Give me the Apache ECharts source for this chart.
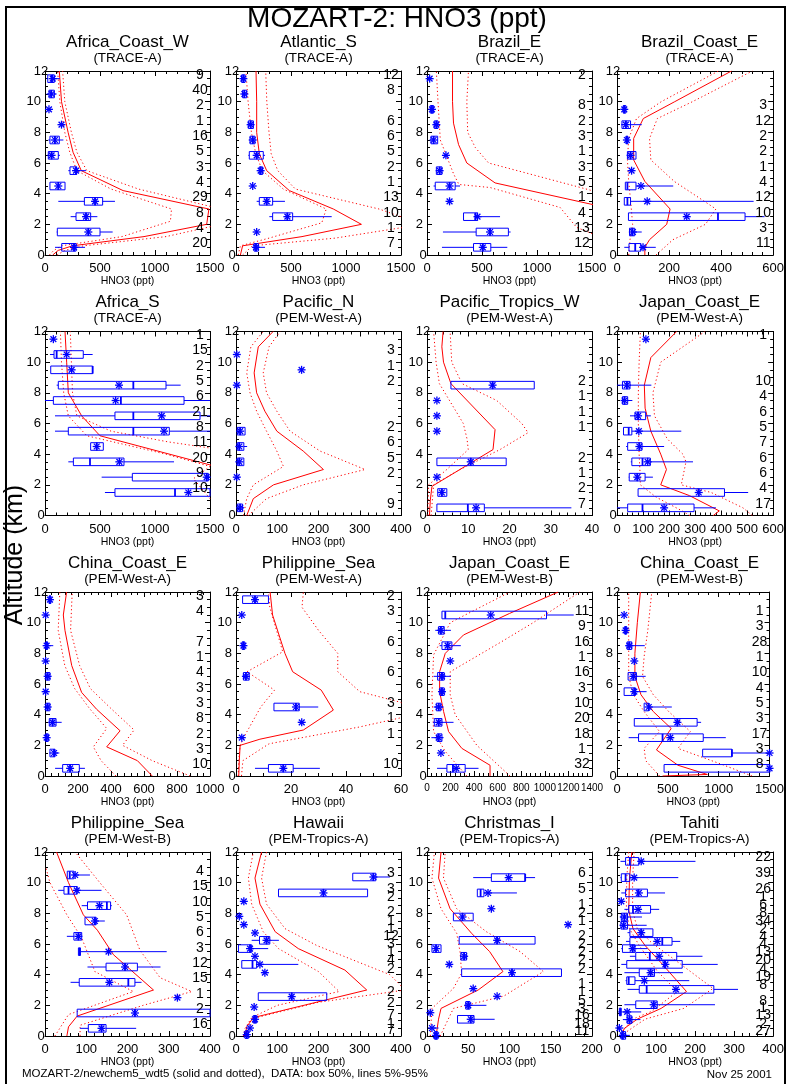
<!DOCTYPE html>
<html><head><meta charset="utf-8">
<script src="https://cdn.jsdelivr.net/npm/echarts@6.0.0/dist/echarts.min.js"></script>
<style>html,body{margin:0;padding:0;background:#fff}#c{width:787px;height:1084px}</style>
</head><body><div id="c"></div>
<script>
// ---------- DATA ----------
const mainTitle = 'MOZART-2: HNO3 (ppt)';
const yAxisTitle = 'Altitude (km)';
const xAxisTitle = 'HNO3 (ppt)';
const footerLeft = 'MOZART-2/newchem5_wdt5 (solid and dotted),  DATA: box 50%, lines 5%-95%';
const footerRight = 'Nov 25 2001';
const panelTitles = ['Africa_Coast_W','Atlantic_S','Brazil_E','Brazil_Coast_E','Africa_S','Pacific_N','Pacific_Tropics_W','Japan_Coast_E','China_Coast_E','Philippine_Sea','Japan_Coast_E','China_Coast_E','Philippine_Sea','Hawaii','Christmas_I','Tahiti'];
const panelCampaigns = ['TRACE-A','TRACE-A','TRACE-A','TRACE-A','TRACE-A','PEM-West-A','PEM-West-A','PEM-West-A','PEM-West-A','PEM-West-A','PEM-West-B','PEM-West-B','PEM-West-B','PEM-Tropics-A','PEM-Tropics-A','PEM-Tropics-A'];
const xMaxes = [1500,1500,1500,600,1500,400,40,600,1000,60,1400,1500,400,400,200,400];
const xSteps = [500,500,500,200,500,100,10,100,200,20,200,500,100,100,50,100];
const yTicks = [0,2,4,6,8,10,12];

// observations: [altitude, p5, q1, median, q3, p95, mean, count]
const obs01 = [[11.5,15,25,60,85,135,70,9],[10.5,15,36,55,85,106,60,40],[9.5,null,null,null,null,null,36,2],[8.5,null,null,null,null,null,150,1],[7.5,30,45,90,130,167,90,16],[6.5,24,30,60,121,136,60,5],[5.5,212,227,282,288,373,282,3],[4.5,null,45,121,182,null,121,4],[3.5,121,358,455,524,636,455,29],[2.5,233,282,373,415,476,373,8],[1.5,106,112,394,500,615,394,4],[0.5,91,152,264,282,364,264,20]];
const obs02 = [[11.5,null,51,67,82,null,67,12],[10.5,null,60,76,97,null,76,8],[8.5,null,112,133,158,null,133,6],[7.5,null,127,152,173,null,152,6],[6.5,112,121,188,248,264,188,5],[5.5,null,212,224,242,null,224,2],[4.5,null,null,null,null,null,152,1],[3.5,188,212,279,333,445,279,13],[2.5,303,333,467,515,870,467,10],[1.5,null,null,null,null,null,188,1],[0.5,158,164,182,203,264,182,7]];
const obs03 = [[11.5,null,null,null,null,null,24,2],[9.5,null,30,45,60,null,45,8],[8.5,null,66,85,100,null,85,2],[7.5,null,36,60,97,null,60,3],[6.5,null,null,null,null,null,172,1],[5.5,null,85,115,136,null,115,3],[4.5,60,75,205,256,300,205,5],[3.5,null,null,null,null,null,205,1],[2.5,332,332,440,459,664,459,4],[1.5,145,447,573,740,760,573,13],[0.5,136,423,507,580,730,507,12]];
const obs04 = [[9.5,null,24,28,34,null,28,3],[8.5,16,19,34,52,95,34,12],[7.5,null,34,38,42,null,38,2],[6.5,null,40,52,73,null,52,2],[5.5,null,null,null,null,null,56,1],[4.5,32,32,40,73,216,92,4],[3.5,28,28,40,52,525,116,12],[2.5,44,44,388,492,567,268,10],[1.5,46,48,58,68,95,61,3],[0.5,28,46,70,92,149,100,11]];
const obs05 = [[11.5,null,null,null,null,null,76,1],[10.5,45,82,106,348,433,197,15],[9.5,null,52,433,433,null,242,2],[8.5,106,121,803,1100,1233,673,5],[7.5,0,76,690,1264,1600,642,6],[6.5,91,636,803,1409,1600,1061,21],[5.5,91,212,803,1130,1600,1082,8],[4.5,null,415,470,530,null,470,11],[3.5,212,258,409,718,1173,676,20],[2.5,515,794,1470,1485,1600,1470,9],[1.5,545,636,1182,1530,1600,1303,10]];
const obs06 = [[10.5,null,null,null,null,null,2,3],[9.5,null,null,null,null,null,159,1],[8.5,null,null,null,null,null,2,2],[5.5,null,3,10,22,null,10,2],[4.5,2,3,8,19,27,8,6],[3.5,null,3,8,19,null,8,5],[2.5,null,null,null,null,null,2,2],[0.5,null,3,10,16,null,10,9]];
const obs07 = [[8.5,null,5.8,15.9,26,null,15.9,2],[7.5,null,null,null,null,null,2.4,1],[6.5,null,null,null,null,null,2.4,1],[5.5,null,null,null,null,null,2.4,1],[3.5,null,2.4,10.6,19.2,null,10.6,2],[2.5,null,null,null,null,null,2.4,1],[1.5,null,2.6,3.6,4.8,null,3.6,2],[0.5,2.4,2.4,9.9,13.9,35,11.9,7]];
const obs08 = [[11.5,null,null,null,null,null,111,1],[8.5,0,21,38,50,132,38,10],[7.5,21,21,29,41,59,29,4],[6.5,50,69,81,110,130,81,6],[5.5,23,25,45,57,247,84,5],[4.5,35,41,86,96,181,86,7],[3.5,53,57,98,128,292,118,6],[2.5,45,47,78,108,138,78,6],[1.5,81,81,314,413,504,314,4],[0.5,0,41,98,296,380,181,17]];
const obs09 = [[11.5,null,24,30,36,null,30,3],[10.5,null,null,null,null,null,4,4],[8.5,0,4,10,16,50,10,7],[7.5,null,null,null,null,null,4,1],[6.5,null,6,16,30,null,16,4],[5.5,null,null,null,null,null,4,3],[4.5,null,6,16,30,null,16,3],[3.5,20,26,46,67,101,46,8],[2.5,null,4,10,20,null,10,2],[1.5,26,30,55,61,87,55,3],[0.5,61,107,152,208,242,152,10]];
const obs10 = [[11.5,null,2.4,6.9,11.8,null,6.9,2],[10.5,null,null,null,null,null,2.1,3],[8.5,null,2.2,2.7,3.2,null,2.7,6],[6.5,null,2.7,3.6,4.8,null,3.6,6],[4.5,13.8,13.8,21.8,23,29.9,21.8,3],[3.5,null,null,null,null,null,23.9,1],[2.5,null,null,null,null,null,2.1,1],[0.5,6.9,11.8,17.2,20.8,30.5,17.2,10]];
const obs11 = [[10.5,127,127,155,1014,1245,541,11],[9.5,70,99,118,146,203,118,9],[8.5,107,127,175,211,287,175,16],[7.5,null,null,null,null,null,197,1],[6.5,56,90,127,146,203,127,16],[5.5,null,110,127,146,null,127,3],[4.5,56,79,99,118,141,99,10],[3.5,51,62,99,127,225,99,20],[2.5,37,85,99,127,141,99,18],[1.5,null,null,null,null,null,118,1],[0.5,85,169,220,324,437,248,32]];
const obs12 = [[10.5,null,null,null,null,null,70,1],[9.5,null,75,85,95,null,85,3],[8.5,85,100,121,145,273,121,28],[7.5,null,null,null,null,null,170,1],[6.5,109,109,161,191,282,161,10],[5.5,70,70,170,182,291,170,4],[4.5,267,267,312,312,539,312,5],[3.5,170,170,594,788,827,594,3],[2.5,115,212,448,848,1070,524,17],[1.5,842,842,1130,1130,1700,1500,3],[0.5,463,463,1800,1800,2000,1500,8]];
const obs13 = [[10.5,54,54,60,70,109,73,4],[9.5,32,46,57,78,137,77,15],[8.5,89,103,150,159,162,132,10],[7.5,97,97,121,124,145,121,5],[6.5,53,70,81,89,89,81,6],[5.5,81,81,84,86,295,154,3],[4.5,103,148,194,224,280,194,12],[3.5,62,83,202,218,234,156,15],[2.5,null,null,null,null,null,321,1],[1.5,null,78,218,405,null,218,2],[0.5,85,105,137,148,221,137,16]];
const obs14 = [[10.37,283,283,333,339,373,333,3],[9.33,null,103,212,319,null,212,3],[8.78,null,null,null,null,null,19,2],[7.8,null,null,null,null,null,8,2],[7.26,null,null,null,null,null,19,1],[6.72,null,null,null,null,null,46,1],[6.24,38,57,74,82,104,74,12],[5.7,6,6,34,38,78,34,3],[5.2,null,null,null,null,null,46,1],[4.67,14,14,40,50,151,58,4],[4.13,null,null,null,null,null,70,2],[2.57,null,54,135,220,null,135,2],[1.89,null,null,null,null,null,44,2],[1.09,null,42,46,50,null,46,7],[0.52,null,null,null,null,null,34,1],[0.09,null,22,26,30,null,26,7]];
const obs15 = [[10.33,56,78,119,119,131,99,6],[9.33,61,61,65,69,109,74,5],[8.3,null,null,null,null,null,78,1],[7.76,null,32,43,56,null,43,2],[7.26,null,null,null,null,null,171,1],[6.24,null,39,85,131,null,85,2],[5.7,null,6,11,17,null,11,2],[5.2,null,41,45,48,null,45,2],[4.67,null,null,null,null,null,27,2],[4.13,null,42,103,163,null,103,2],[3.09,null,null,null,null,null,56,1],[2.59,null,null,null,null,null,85,1],[2.0,47,47,50,52,72,50,5],[1.52,null,null,null,null,null,4,3],[1.09,37,37,53,57,82,53,16],[0.52,4,null,null,null,14,6,18],[0.04,null,9,11,13,null,11,11]];
const obs16 = [[11.39,9,22,33,56,201,62,22],[10.33,9,11,22,33,157,44,39],[9.33,11,22,54,78,123,56,26],[8.78,null,null,null,null,null,11,1],[8.26,19,30,41,86,108,54,6],[7.76,7,11,19,27,64,19,8],[7.22,7,10,17,27,76,17,34],[6.74,27,33,62,92,92,62,2],[6.17,23,33,116,141,162,103,4],[5.7,11,14,40,46,78,40,4],[5.2,33,48,84,153,219,108,13],[4.67,11,25,122,167,258,124,20],[4.13,19,57,86,96,169,86,4],[3.61,22,25,30,46,185,70,19],[3.04,27,57,76,248,310,151,8],[2.04,19,48,94,103,251,94,8],[1.57,3,6,8,11,62,26,1],[1.07,15,26,32,38,60,32,13],[0.52,null,null,null,null,null,6,2],[0.04,6,11,15,22,33,15,27]];

// model profiles: [HNO3, altitude]  (solid = median, dotted = low / high)
const mid01 = [[70,0],[120,0.3],[250,0.6],[900,1.2],[1470,2],[1490,3],[710,4.2],[330,5.5],[255,6.7],[210,8],[150,10],[130,12]];
const lo01 = [[40,0],[80,0.3],[150,0.6],[700,1.2],[1140,2.2],[1150,3],[600,4.3],[290,5.5],[225,6.7],[180,8],[135,10],[115,12]];
const hi01 = [[110,0],[180,0.3],[350,0.6],[1100,1.2],[1600,2],[1600,3],[850,4.3],[380,5.5],[290,6.7],[240,8],[180,10],[160,12]];
const mid02 = [[40,0],[60,0.6],[600,1.2],[1140,2],[885,3],[485,4.2],[279,5.5],[212,6.6],[188,8],[188,10],[182,12]];
const lo02 = [[20,0],[40,0.6],[300,1.1],[780,2.1],[820,3],[430,4.3],[240,5.5],[180,6.6],[140,8],[110,10],[90,12]];
const hi02 = [[60,0],[150,0.6],[900,1.1],[1700,2],[1300,3],[540,4.3],[380,5.5],[320,6.6],[300,8],[280,10],[270,12]];
const mid03 = [[2500,0],[2800,1.5],[3000,2.5],[1500,3.3],[619,4.7],[362,6],[287,7.2],[241,8.6],[232,10],[232,12]];
const lo03 = [[1700,0],[1500,1.4],[1360,1.8],[1210,3.1],[574,4.4],[290,4.6],[241,5.3],[121,7.5],[100,10],[85,12]];
const hi03 = [[3500,0],[3500,2],[2500,3],[1500,4.2],[560,6],[440,7],[370,8],[362,10],[377,12]];
const mid04 = [[107,0],[107,0.5],[125,1],[191,2],[204,3],[107,4.8],[64,6.2],[64,7.6],[101,8.9],[222,10],[440,12]];
const lo04 = [[45,0],[50,1],[60,2],[55,3],[45,4.8],[40,6.2],[45,7.6],[75,8.9],[170,10],[390,12]];
const hi04 = [[150,0],[215,1],[340,2],[380,3],[220,4.8],[130,6.2],[125,7.6],[155,8.9],[290,10],[520,12]];
const mid05 = [[2500,0],[2500,1],[2200,2],[1500,3.3],[500,5.2],[333,6.5],[212,8],[197,10],[182,12]];
const lo05 = [[1800,0.5],[1500,1.1],[1350,2.4],[1500,3.2],[1100,4],[380,5.2],[212,6.5],[170,8],[150,10],[140,12]];
const hi05 = [[3000,0],[3000,2],[2500,3],[1500,4.4],[1121,4.8],[600,5.5],[290,6.5],[250,8],[240,10],[230,12]];
const mid06 = [[26,0],[42,1.1],[91,2],[212,3],[163,4.2],[99,5.5],[70,6.8],[50,8],[44,9.3],[54,11],[90,12]];
const lo06 = [[18,0],[26,1.1],[42,2],[115,3.2],[99,4.2],[74,5.5],[50,6.8],[34,8],[26,9.3],[36,11],[66,12]];
const hi06 = [[30,0],[74,1.1],[163,2],[313,3],[204,4.2],[131,5.5],[99,6.8],[74,8],[66,9.3],[80,11],[107,12]];
const mid07 = [[0.6,0],[0.8,1],[1.2,1.9],[16,4.3],[16.5,5.6],[5.8,8.6],[4.0,10],[3.6,11],[3.9,12]];
const lo07 = [[0.2,0],[0.4,2],[4.8,3],[10,4.3],[9.7,5],[8.8,6],[3.0,8.6],[2.2,10],[1.6,12]];
const hi07 = [[1.0,0],[1.6,2],[8,3],[17.7,4.3],[24.5,5.4],[23,6],[16.9,7.5],[8.5,8.6],[6.0,10],[5.6,12]];
const mid08 = [[370,0],[393,0.3],[278,1.3],[168,2],[190,3],[168,4],[130,5.5],[108,7],[105,8.5],[130,10.3],[229,12]];
const lo08 = [[280,0],[250,0.3],[150,1.2],[90,2],[88,3],[85,4],[82,6],[82,8],[85,10],[90,12]];
const hi08 = [[520,0],[484,0.5],[362,1.5],[247,2],[265,3.5],[253,4],[193,5],[144,6.5],[138,8],[168,10],[338,12]];
const mid09 = [[650,0],[657,0.1],[560,1],[374,1.9],[455,2.95],[313,4.35],[222,5.45],[162,7.2],[121,9.5],[111,10.5],[131,12]];
const lo09 = [[430,0],[340,1],[293,1.9],[374,3.1],[270,4.4],[180,5.7],[120,7.2],[80,9.5],[90,12]];
const hi09 = [[880,0],[650,1],[470,2],[540,3],[400,4.4],[275,5.7],[210,7.2],[155,9.5],[165,12]];
const mid10 = [[1.0,0],[1.2,1],[1.5,2],[8.7,2.4],[24.5,3],[35.4,4.3],[31,5.6],[20.6,6.8],[17.8,8],[13.3,10.5],[12.4,12]];
const lo10 = [[0.8,0],[1,1],[1.5,2],[4,2.9],[9,4.5],[14,5.6],[4,6.8],[17,8.1],[12.3,11],[11.8,12]];
const hi10 = [[2,0],[2.5,1],[12,2.1],[45,3.2],[65,4],[60,4.8],[45,5.5],[37,6.8],[37,8],[30,9.5],[24,11],[24.5,12]];
const mid11 = [[535,0],[535,0.7],[296,1.8],[183,2.9],[141,4.2],[107,5.5],[107,6.8],[155,8],[310,9.2],[700,10.6],[1113,12]];
const lo11 = [[338,0],[155,1.6],[56,2.9],[42,5.3],[56,7.9],[197,10],[450,11],[704,12]];
const hi11 = [[704,0],[423,2],[239,4],[197,5.3],[197,6.8],[620,8.7],[901,10],[1296,12]];
const mid12 = [[448,0],[888,0.1],[600,0.7],[388,1.7],[533,3.1],[357,4.2],[236,5.3],[176,6.5],[176,8],[200,10],[230,12]];
const lo12 = [[418,0],[282,1],[267,1.8],[418,2.9],[267,4.2],[161,5.3],[115,6.5],[115,8],[115,12]];
const hi12 = [[1327,0],[1054,0.7],[600,1.8],[721,2.9],[509,4.2],[357,5.3],[251,6.5],[267,7.8],[303,9.5],[342,12]];
const mid13 = [[53,0],[57,0.6],[78,1.3],[263,3],[166,5.3],[127,6.9],[93,7.9],[57,10],[28,12]];
const lo13 = [[24,0],[57,1.4],[214,2.9],[121,4.2],[89,6.4],[53,7.9],[12,10],[2,11]];
const hi13 = [[85,0],[85,0.7],[238,2],[356,2.9],[279,3.8],[230,5.6],[198,7.9],[133,10],[73,12]];
const mid14 = [[22,0],[26,0.6],[42,1.2],[317,3],[264,4.3],[151,5.7],[95,6.8],[58,8.6],[46,10.3],[62,12]];
const lo14 = [[18,0],[22,0.5],[38,1.2],[100,2],[250,2.9],[200,4.2],[103,5.7],[66,6.8],[38,8.6],[30,10.3],[42,12]];
const hi14 = [[25,0],[30,0.5],[50,1.2],[200,2.2],[410,3],[373,4],[196,5.9],[119,7],[74,8.6],[62,10.3],[74,12]];
const mid15 = [[11,0],[14,1.1],[17,1.8],[62,3],[92,4.2],[76,5.5],[54,6.7],[28,8.3],[14,10.3],[17,12]];
const lo15 = [[4,0],[6,1.8],[32,3.1],[42,4.1],[40,5.5],[36,6.7],[17,8.3],[6,10.3],[9,12]];
const hi15 = [[16,0],[32,1.8],[93,2.6],[141,4.2],[113,5.5],[72,6.8],[36,8.3],[20,10.3],[22,12]];
const mid16 = [[11,0],[19,0.5],[52,1.1],[113,1.8],[178,2.9],[112,4.8],[72,5.9],[41,7],[30,8.2],[32,10.3],[38,12]];
const lo16 = [[14,0.3],[40,1.1],[88,1.6],[155,2.9],[104,4.2],[57,5.9],[32,7],[24,8.2],[25,10.3],[30,12]];
const hi16 = [[26,0.3],[72,1.1],[171,1.8],[246,3.1],[157,4.8],[88,6.1],[52,7],[40,8.2],[40,10.3],[44,12]];

// ---------- BUILD ----------
const obsList = [obs01,obs02,obs03,obs04,obs05,obs06,obs07,obs08,obs09,obs10,obs11,obs12,obs13,obs14,obs15,obs16];
const midList = [mid01,mid02,mid03,mid04,mid05,mid06,mid07,mid08,mid09,mid10,mid11,mid12,mid13,mid14,mid15,mid16];
const loList = [lo01,lo02,lo03,lo04,lo05,lo06,lo07,lo08,lo09,lo10,lo11,lo12,lo13,lo14,lo15,lo16];
const hiList = [hi01,hi02,hi03,hi04,hi05,hi06,hi07,hi08,hi09,hi10,hi11,hi12,hi13,hi14,hi15,hi16];

const FONT = '"Liberation Sans", Arial, Helvetica, sans-serif';
const BLUE = '#0000ff';
const RED = '#ff0000';
const colLeft = [45, 236, 427, 617];
const rowTop = [71, 331.5, 592, 852];
const GW = 165, GH = 184;
const BH = 3.8;

function has(v) { return v !== null && v !== undefined; }

function makeRender(rows) {
  return function (params, api) {
    const row = rows[params.dataIndex];
    const alt = row[0], p5 = row[1], q1 = row[2], med = row[3], q3 = row[4], p95 = row[5], mean = row[6], n = row[7];
    const cs = params.coordSys;
    const xL = cs.x, xR = cs.x + cs.width;
    const cl = v => Math.max(xL, Math.min(xR, v));
    const yc = api.coord([0, alt])[1];
    const px = v => cl(api.coord([v, alt])[0]);
    const kids = [];
    const ln = (x1, y1, x2, y2, w) => kids.push({type: 'line', shape: {x1, y1, x2, y2}, style: {stroke: BLUE, lineWidth: w || 1}});
    const hasBox = has(q1) && has(q3);
    if (hasBox) {
      const a = px(q1), b = px(q3);
      if (has(p5) && px(p5) < a) ln(px(p5), yc, a, yc);
      if (has(p95) && px(p95) > b) ln(b, yc, px(p95), yc);
      kids.push({type: 'rect', shape: {x: a, y: yc - BH, width: Math.max(b - a, 1), height: 2 * BH}, style: {fill: 'none', stroke: BLUE, lineWidth: 1}});
      if (has(med)) { const m = px(med); ln(m, yc - BH, m, yc + BH, 1.8); }
    } else if (has(p5) && has(p95)) {
      ln(px(p5), yc, px(p95), yc);
    }
    if (has(mean)) {
      const mx = api.coord([mean, alt])[0];
      const r = 4, d = 2.9;
      ln(mx - r, yc, mx + r, yc, 1.3);
      ln(mx, yc - r, mx, yc + r, 1.3);
      ln(mx - d, yc - d, mx + d, yc + d, 1.3);
      ln(mx - d, yc + d, mx + d, yc - d, 1.3);
    }
    if (has(n)) {
      kids.push({type: 'text', x: xR - 10, y: yc - 4, style: {text: String(n), fill: '#000', fontSize: 14, fontFamily: FONT, align: 'center', verticalAlign: 'middle'}});
    }
    return {type: 'group', children: kids};
  };
}

const grid = [], xAxis = [], yAxis = [], series = [], graphic = [];
const tickLab = {color: '#000', fontSize: 13, fontFamily: FONT, formatter: v => String(v), alignMinLabel: 'center', alignMaxLabel: 'center', showMinLabel: true, showMaxLabel: true, hideOverlap: false};
for (let i = 0; i < 16; i++) {
  const r = Math.floor(i / 4), c = i % 4;
  const left = colLeft[c], top = rowTop[r];
  grid.push({left: left, top: top, width: GW, height: GH, containLabel: false, show: false});
  const minorX = (xSteps[i] === 20) ? 4 : 5;
  const baseX = {type: 'value', gridIndex: i, min: 0, max: xMaxes[i], interval: xSteps[i],
    axisLine: {show: true, onZero: false, lineStyle: {color: '#000', width: 1}},
    axisTick: {show: true, inside: true, length: 5, lineStyle: {color: '#000'}},
    minorTick: {show: true, splitNumber: minorX, length: 3, lineStyle: {color: '#000'}},
    splitLine: {show: false}, minorSplitLine: {show: false}};
  const crowded = (xMaxes[i] / xSteps[i]) > 6;
  xAxis.push(Object.assign({}, baseX, {position: 'bottom',
    axisLabel: Object.assign({}, tickLab, {margin: 7, fontSize: crowded ? 10 : 13}),
    name: xAxisTitle, nameLocation: 'middle', nameGap: 21,
    nameTextStyle: {color: '#000', fontSize: 10.5, fontFamily: FONT}}));
  xAxis.push(Object.assign({}, baseX, {position: 'top', axisLabel: {show: false}}));
  const baseY = {type: 'value', gridIndex: i, min: 0, max: 12, interval: 2,
    axisLine: {show: true, onZero: false, lineStyle: {color: '#000', width: 1}},
    axisTick: {show: true, inside: true, length: 5, lineStyle: {color: '#000'}},
    minorTick: {show: true, splitNumber: 4, length: 3, lineStyle: {color: '#000'}},
    splitLine: {show: false}, minorSplitLine: {show: false}};
  yAxis.push(Object.assign({}, baseY, {position: 'left', axisLabel: Object.assign({}, tickLab, {margin: 4})}));
  yAxis.push(Object.assign({}, baseY, {position: 'right', axisLabel: {show: false}}));

  const lineBase = {type: 'line', xAxisIndex: 2 * i, yAxisIndex: 2 * i, showSymbol: false, symbol: 'none', clip: true, silent: true, animation: false, z: 2};
  series.push(Object.assign({}, lineBase, {data: midList[i], lineStyle: {color: RED, width: 1}}));
  series.push(Object.assign({}, lineBase, {data: loList[i], lineStyle: {color: RED, width: 1, type: [1.2, 2.6]}}));
  series.push(Object.assign({}, lineBase, {data: hiList[i], lineStyle: {color: RED, width: 1, type: [1.2, 2.6]}}));
  series.push({type: 'custom', xAxisIndex: 2 * i, yAxisIndex: 2 * i, z: 3, animation: false, silent: true,
    renderItem: makeRender(obsList[i]),
    encode: {x: 6, y: 0},
    data: obsList[i].map(rw => rw.map(v => has(v) ? v : '-'))});

  graphic.push({type: 'text', x: left + GW / 2, y: top - 29, style: {text: panelTitles[i], fill: '#000', fontSize: 17, fontFamily: FONT, align: 'center', verticalAlign: 'middle'}});
  graphic.push({type: 'text', x: left + GW / 2, y: top - 13, style: {text: '(' + panelCampaigns[i] + ')', fill: '#000', fontSize: 13.5, fontFamily: FONT, align: 'center', verticalAlign: 'middle'}});
}

graphic.push({type: 'rect', shape: {x: 6, y: 7, width: 779, height: 1090}, style: {fill: 'none', stroke: '#000', lineWidth: 2}, z: 10});
graphic.push({type: 'text', x: 397, y: 19, style: {text: mainTitle, fill: '#000', fontSize: 28, fontFamily: FONT, align: 'center', verticalAlign: 'middle'}});
graphic.push({type: 'text', x: 15, y: 555, rotation: Math.PI / 2, style: {text: yAxisTitle, fill: '#000', fontSize: 25, fontFamily: FONT, align: 'center', verticalAlign: 'middle'}});
graphic.push({type: 'text', x: 22, y: 1074, style: {text: footerLeft, fill: '#000', fontSize: 11.5, fontFamily: FONT, align: 'left', verticalAlign: 'middle'}});
graphic.push({type: 'text', x: 772, y: 1075, style: {text: footerRight, fill: '#000', fontSize: 11.5, fontFamily: FONT, align: 'right', verticalAlign: 'middle'}});

const chart = echarts.init(document.getElementById('c'), null, {renderer: 'canvas', width: 787, height: 1084});
chart.setOption({animation: false, backgroundColor: '#fff', grid, xAxis, yAxis, series, graphic});
</script></body></html>
